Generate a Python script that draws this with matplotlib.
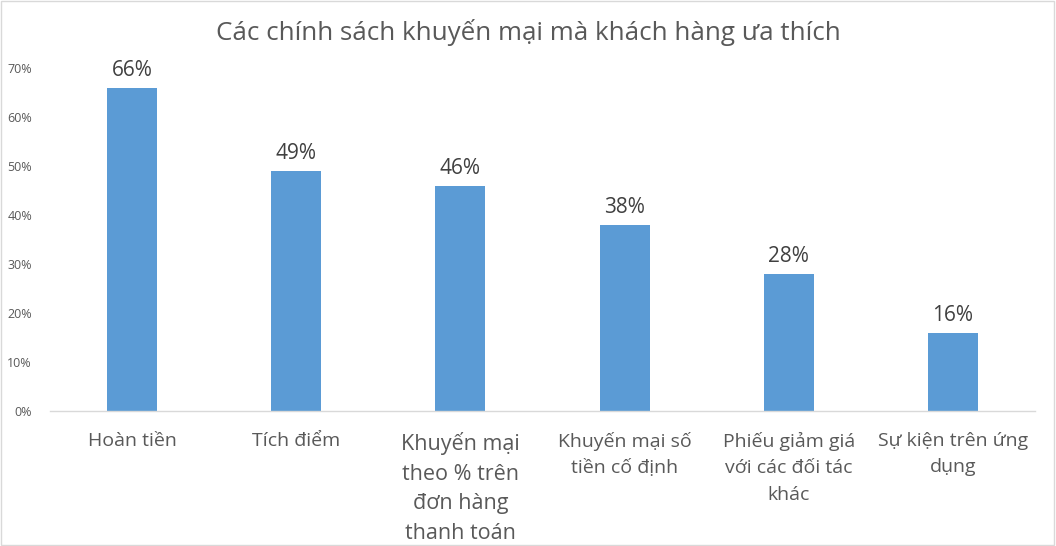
import matplotlib
matplotlib.use("Agg")
import matplotlib.pyplot as plt
from matplotlib.patches import Rectangle

categories = ["Hoàn tiền", "Tích điểm", "Khuyến mại\ntheo % trên\nđơn hàng\nthanh toán",
              "Khuyến mại số\ntiền cố định", "Phiếu giảm giá\nvới các đối tác\nkhác",
              "Sự kiện trên ứng\ndụng"]
values = [0.66, 0.49, 0.46, 0.38, 0.28, 0.16]
label_sizes = [14, 14, 15.5, 14, 14, 14]

plt.rcParams['font.family'] = ['Open Sans', 'DejaVu Sans']
text_col = "#595959"

fig = plt.figure(figsize=(10.56, 5.46), dpi=100)
ax = fig.add_axes([50 / 1056, 1 - 411 / 546, 985 / 1056, 343 / 546])

x = list(range(len(values)))
ax.bar(x, values, width=0.305, color="#5B9BD5", zorder=2)
for xi, v in zip(x, values):
    ax.text(xi, v + 0.014, "{:.0f}%".format(v * 100), ha="center", va="bottom",
            fontsize=15, color="#404040")

ax.set_xlim(-0.5, len(values) - 0.5)
ax.set_ylim(0, 0.70)
yt = [i / 10 for i in range(8)]
ax.set_yticks(yt)
ax.set_yticklabels(["{}%".format(i * 10) for i in range(8)], fontsize=9, color=text_col)
ax.set_xticks(x)
ax.set_xticklabels(categories, color=text_col)
for lab, s in zip(ax.get_xticklabels(), label_sizes):
    lab.set_fontsize(s)
    lab.set_verticalalignment("top")
    lab.set_linespacing(1.55 if s > 15 else 1.6)
ax.tick_params(axis="both", length=0)
ax.tick_params(axis="x", pad=15)
ax.tick_params(axis="y", pad=13)
for side in ["top", "right", "left"]:
    ax.spines[side].set_visible(False)
ax.spines["bottom"].set_color("#D9D9D9")
ax.spines["bottom"].set_linewidth(1)

fig.text(0.5, 1 - 32 / 546, "Các chính sách khuyến mại mà khách hàng ưa thích",
         ha="center", va="center", fontsize=18.7, color=text_col)
fig.patches.append(Rectangle((0.001, 0.001), 0.997, 0.997, transform=fig.transFigure,
                             fill=False, edgecolor="#D9D9D9", linewidth=1))

fig.savefig("out.png", dpi=100)
